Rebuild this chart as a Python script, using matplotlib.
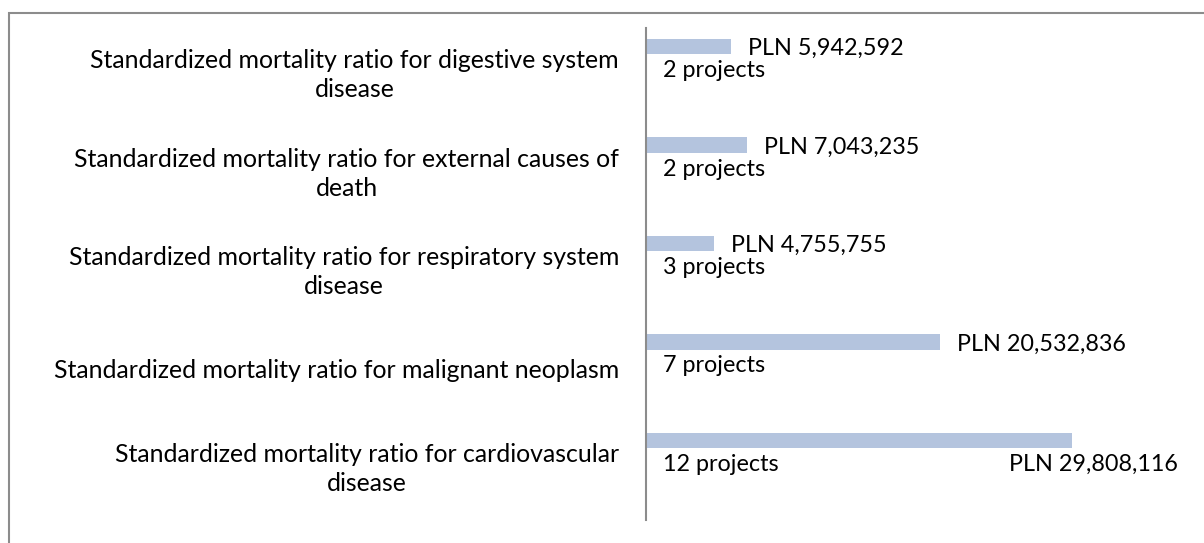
import matplotlib
matplotlib.use('Agg')
import matplotlib.pyplot as plt
from matplotlib.patches import Rectangle

# data, top row first
categories = [
    "Standardized mortality ratio for digestive system\ndisease",
    "Standardized mortality ratio for external causes of\ndeath",
    "Standardized mortality ratio for respiratory system\ndisease",
    "Standardized mortality ratio for malignant neoplasm",
    "Standardized mortality ratio for cardiovascular\ndisease",
]
amounts_pln = [5942592, 7043235, 4755755, 20532836, 29808116]
projects = [2, 2, 3, 7, 12]

W, H = 1204, 543
PT = 0.72  # points per pixel at dpi 100
plt.rcParams['font.family'] = ['Lato', 'DejaVu Sans']
fig = plt.figure(figsize=(W / 100, H / 100), dpi=100)
fig.patch.set_facecolor('white')

# outer frame (runs off the right and bottom edges)
fig.patches.append(Rectangle((9 / W, -0.05), 1.1, 1 - 13 / H + 0.05,
                             transform=fig.transFigure, fill=False,
                             edgecolor='#8c8c8c', linewidth=1.5))

left, right, top, bottom = 646, 1190, 28, 520
ax = fig.add_axes([left / W, 1 - bottom / H, (right - left) / W, (bottom - top) / H])

px_per_unit = 14.3 / 1e6
ax.set_xlim(0, (right - left) / px_per_unit)
ax.set_ylim(len(categories) - 0.5, -0.5)

row_px = (bottom - top) / len(categories)
bar_off = -30.5 / row_px
bar_h = 15.5 / row_px
ys = list(range(len(categories)))
ax.barh([y + bar_off for y in ys], amounts_pln, height=bar_h, color='#b4c4de')

fs = 16.8
for y, amt, n in zip(ys, amounts_pln, projects):
    by = y + bar_off
    lab = f"PLN {amt:,}"
    if amt == max(amounts_pln):
        ax.annotate(lab, (amt, by), xytext=(106 * PT, -24 * PT),
                    textcoords='offset points', ha='right', va='center', fontsize=fs)
    else:
        ax.annotate(lab, (amt, by), xytext=(17 * PT, -2 * PT),
                    textcoords='offset points', ha='left', va='center', fontsize=fs)
    ax.annotate(f"{n} projects", (0, by), xytext=(17 * PT, -24 * PT),
                textcoords='offset points', ha='left', va='center', fontsize=fs)

# category labels, right-aligned block with centred lines
for y, cat in zip(ys, categories):
    ax.annotate(cat, (0, y), xycoords=('axes fraction', 'data'),
                xytext=(-27 * PT, 2 * PT), textcoords='offset points',
                ha='right', va='center', multialignment='center',
                fontsize=17.9, linespacing=1.32)

ax.set_yticks([])
ax.set_xticks([])
for s in ['top', 'right', 'bottom']:
    ax.spines[s].set_visible(False)
ax.spines['left'].set_color('#8c8c8c')
ax.spines['left'].set_linewidth(1.5)

fig.savefig('out.png', dpi=100)
